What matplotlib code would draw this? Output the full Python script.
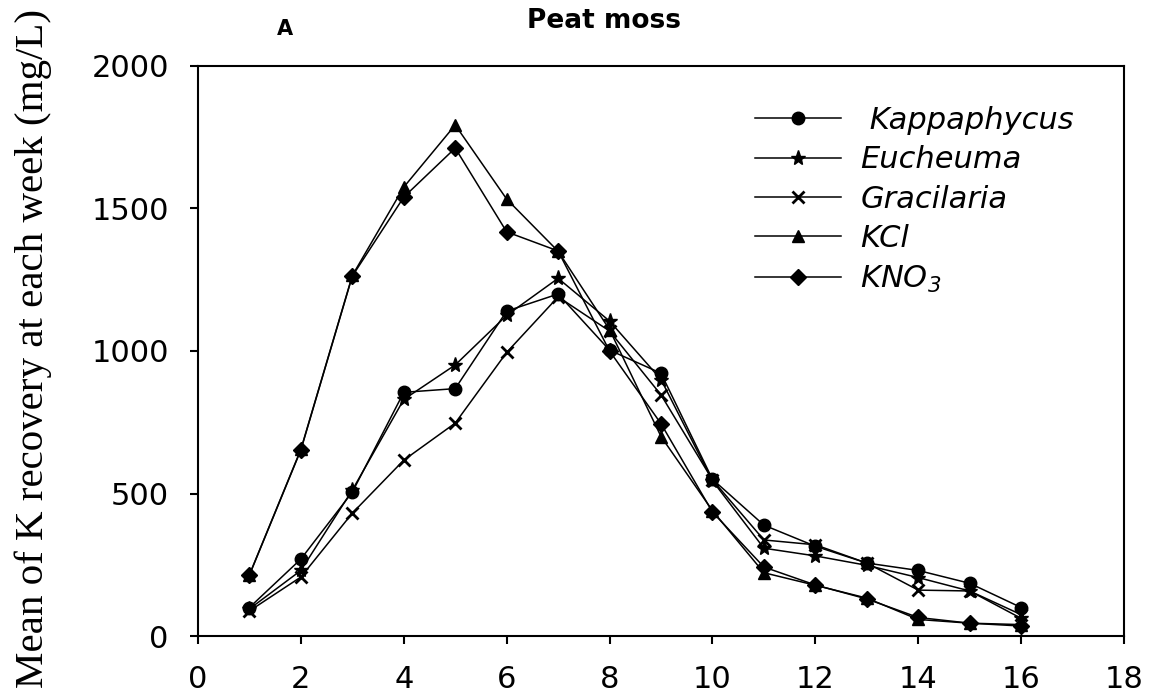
import matplotlib
matplotlib.use("Agg")
import matplotlib.pyplot as plt

plt.rcParams['font.family'] = ['DejaVu Sans']
plt.rcParams['mathtext.fontset'] = 'custom'
plt.rcParams['mathtext.rm'] = 'DejaVu Sans:oblique'
plt.rcParams['mathtext.it'] = 'DejaVu Sans:oblique'

weeks = list(range(1, 17))

kappaphycus = [100, 270, 505, 855, 868, 1140, 1200, 1003, 922, 550, 389, 315, 256, 230, 185, 100]
eucheuma = [95, 230, 512, 830, 951, 1125, 1255, 1105, 900, 545, 308, 281, 248, 205, 158, 62]
gracilaria = [88, 207, 431, 617, 747, 995, 1190, 1070, 846, 548, 337, 320, 256, 161, 158, 75]
kcl = [215, 655, 1265, 1575, 1793, 1533, 1350, 1075, 700, 440, 222, 178, 133, 58, 45, 40]
kno3 = [214, 653, 1263, 1540, 1712, 1418, 1351, 1000, 745, 435, 242, 179, 130, 65, 45, 35]

series = [
    (' Kappaphycus', kappaphycus, 'o', 9),
    ('Eucheuma', eucheuma, '*', 11),
    ('Gracilaria', gracilaria, 'x', 9),
    ('KCl', kcl, '^', 9),
    ('KNO$_3$', kno3, 'D', 8),
]

fig = plt.figure(figsize=(11.49, 6.98), dpi=100)
ax = fig.add_axes([198 / 1149, 62 / 698, 926 / 1149, 570 / 698])

handles = []
for name, vals, mk, ms in series:
    h, = ax.plot(weeks, vals, color='black', lw=1.1, marker=mk, ms=ms,
                 mec='black', mfc='black', mew=2 if mk == 'x' else 1, label=name)
    handles.append(h)

ax.set_xlim(0, 18)
ax.set_ylim(0, 2000)
ax.set_xticks(range(0, 19, 2))
ax.set_yticks([0, 500, 1000, 1500, 2000])
ax.tick_params(direction='out', length=6, width=1.5, labelsize=22, pad=15)
for s in ax.spines.values():
    s.set_linewidth(1.5)

fig.text(33 / 1149, 1 - 349 / 698, 'Mean of K recovery at each week (mg/L)',
         family='Liberation Serif', fontsize=29.5, rotation=90, ha='center', va='center')

leg = ax.legend(handles=handles, loc='upper left', bbox_to_anchor=(755 / 1149, 1 - 106 / 698),
                bbox_transform=fig.transFigure, frameon=False, fontsize=22,
                handlelength=2.8, labelspacing=0.34, handletextpad=0.65,
                borderpad=0, borderaxespad=0)
for t in leg.get_texts():
    t.set_fontstyle('italic')

fig.text(604 / 1149, 1 - 21 / 698, 'Peat moss', ha='center', va='center',
         fontsize=19, fontweight='bold')
fig.text(285 / 1149, 1 - 29 / 698, 'A', ha='center', va='center',
         fontsize=15, fontweight='bold')

fig.savefig('out.png', dpi=100)
